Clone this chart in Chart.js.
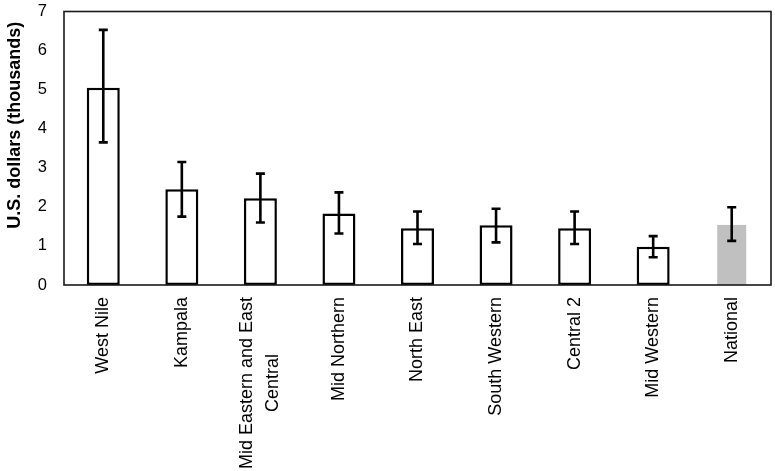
<!DOCTYPE html>
<html>
<head>
<meta charset="utf-8">
<script src="https://cdn.jsdelivr.net/npm/chart.js@4.4.1/dist/chart.umd.min.js"></script>
<style>
  html, body { margin: 0; padding: 0; background: #ffffff; }
  #wrap { width: 775px; height: 471px; position: relative; }
</style>
</head>
<body>
<div id="wrap"><canvas id="c" width="775" height="471"></canvas></div>
<script>
// ---- data ----
const categories = [
  "West Nile",
  "Kampala",
  ["Mid Eastern and East", "Central"],
  "Mid Northern",
  "North East",
  "South Western",
  "Central 2",
  "Mid Western",
  "National"
];
const meanValues = [5.05, 2.45, 2.22, 1.83, 1.45, 1.53, 1.45, 0.98, 1.54];
const errorLow   = [3.65, 1.75, 1.60, 1.32, 1.05, 1.09, 1.05, 0.71, 1.13];
const errorHigh  = [6.53, 3.15, 2.85, 2.37, 1.88, 1.95, 1.88, 1.25, 1.99];
const yTicks = [0, 1, 2, 3, 4, 5, 6, 7];
const yTitle = "U.S. dollars (thousands)";

const FONT = "'Liberation Sans', Arial, sans-serif";
const last = categories.length - 1;
const fills = categories.map((c, i) => i === last ? '#c0c0c0' : '#ffffff');
const borders = categories.map((c, i) => i === last ? 'rgba(0,0,0,0)' : '#000000');
const borderWidths = categories.map((c, i) => i === last ? { top: 0, bottom: 0, left: 2, right: 2 } : 2.5);

const errorBarPlugin = {
  id: 'errorBars',
  afterDatasetsDraw(chart) {
    const meta = chart.getDatasetMeta(0);
    const y = chart.scales.y;
    const ctx = chart.ctx;
    ctx.save();
    ctx.strokeStyle = '#000';
    ctx.lineWidth = 2.6;
    ctx.lineCap = 'butt';
    meta.data.forEach((bar, i) => {
      const x = bar.x;
      const yl = y.getPixelForValue(errorLow[i]);
      const yh = y.getPixelForValue(errorHigh[i]);
      const hw = 4.5;
      ctx.beginPath();
      ctx.moveTo(x, yl); ctx.lineTo(x, yh);
      ctx.moveTo(x - hw, yl); ctx.lineTo(x + hw, yl);
      ctx.moveTo(x - hw, yh); ctx.lineTo(x + hw, yh);
      ctx.stroke();
    });
    ctx.restore();
  }
};

// centre multi-line rotated labels on their tick; shift y title as in the original
const labelTweaksPlugin = {
  id: 'labelTweaks',
  beforeDraw(chart) {
    const scale = chart.scales.x;
    const items = scale.getLabelItems(chart.chartArea);
    const ctx = chart.ctx;
    items.forEach(item => {
      if (Array.isArray(item.label) && item.label.length > 1 && !item._centred) {
        const n = item.label.length;
        const lh = item.font.lineHeight;
        ctx.save();
        ctx.font = item.font.string;
        const w = Math.max(...item.label.map(s => ctx.measureText(s).width));
        ctx.restore();
        item.options.textAlign = 'center';
        item.options.translation[1] += w / 2;
        item.textOffset -= (n - 1) * lh / 2;
        item._centred = true;
      }
    });
    const ys = chart.scales.y;
    if (!ys._titlePatched) {
      const orig = ys.drawTitle;
      ys.drawTitle = function () {
        const c = this.ctx;
        c.save();
        c.translate(0, -23);
        orig.call(this);
        c.restore();
      };
      ys._titlePatched = true;
    }
  }
};

const frameBoxPlugin = {
  id: 'frameBox',
  afterDraw(chart) {
    const a = chart.chartArea;
    const ctx = chart.ctx;
    ctx.save();
    ctx.strokeStyle = '#1a1a1a';
    ctx.lineWidth = 1.6;
    ctx.strokeRect(a.left, a.top, a.right - a.left, a.bottom - a.top);
    ctx.restore();
  }
};

new Chart(document.getElementById('c'), {
  type: 'bar',
  data: {
    labels: categories,
    datasets: [{
      data: meanValues,
      backgroundColor: fills,
      borderColor: borders,
      borderWidth: borderWidths,
      borderSkipped: false,
      barPercentage: 0.7,
      categoryPercentage: 0.6
    }]
  },
  options: {
    responsive: false,
    animation: false,
    devicePixelRatio: 1,
    layout: { padding: { top: 11.5, right: 4, left: 0, bottom: 0 } },
    plugins: { legend: { display: false }, tooltip: { enabled: false } },
    scales: {
      x: {
        grid: { display: false, drawTicks: false },
        border: { display: false },
        ticks: {
          minRotation: 90, maxRotation: 90,
          autoSkip: false,
          padding: 12,
          color: '#000',
          font: { family: FONT, size: 18, lineHeight: 1.45 }
        },
        afterFit(scale) { scale.height = 186; scale.paddingLeft = 0; scale.paddingRight = 0; }
      },
      y: {
        min: 0, max: 7,
        afterBuildTicks(scale) { scale.ticks = yTicks.map(v => ({ value: v })); },
        grid: { display: false, drawTicks: false },
        border: { display: false },
        ticks: {
          padding: 17,
          color: '#000',
          font: { family: FONT, size: 16.5 }
        },
        title: {
          display: true,
          text: yTitle,
          color: '#000',
          padding: { top: 4, bottom: 0 },
          font: { family: FONT, size: 18, weight: 'bold' }
        },
        afterFit(scale) { scale.width = 64; scale.paddingTop = 0; scale.paddingBottom = 0; }
      }
    }
  },
  plugins: [errorBarPlugin, labelTweaksPlugin, frameBoxPlugin]
});
</script>
</body>
</html>
